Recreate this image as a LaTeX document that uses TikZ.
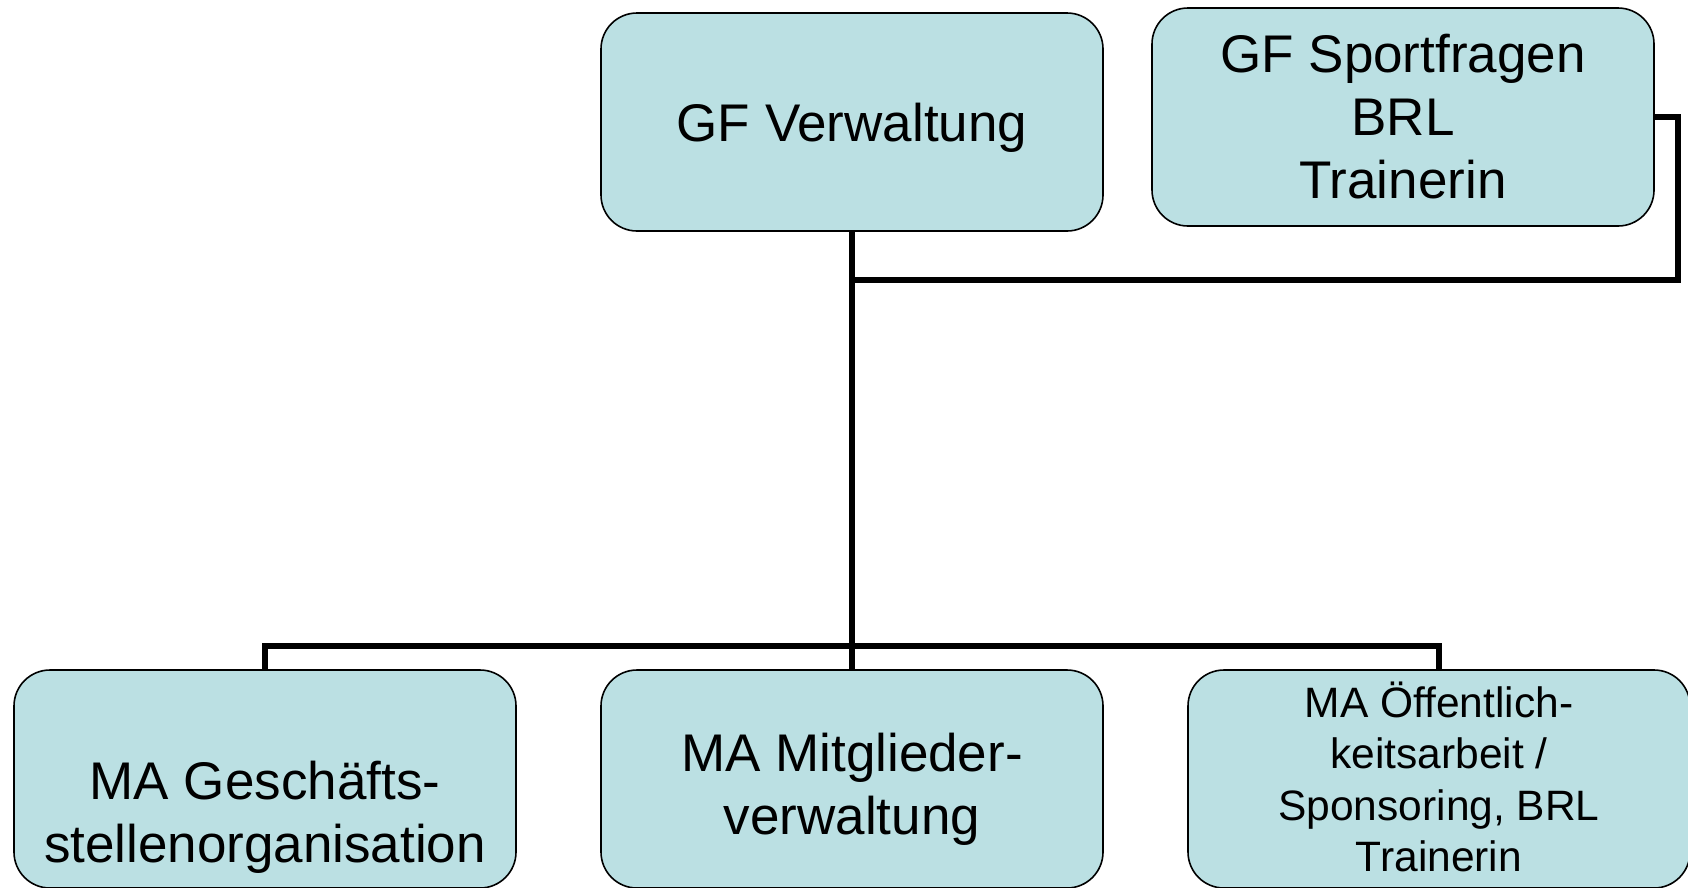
\documentclass[tikz,border=0pt]{standalone}
\usepackage{fontspec}
\setmainfont{Liberation Sans}
\definecolor{boxfill}{RGB}{187,224,227}
\begin{document}
\begin{tikzpicture}[x=1pt,y=-1pt,
  orgbox/.style={draw=black,line width=1.6pt,fill=boxfill,rounded corners=36pt,
    minimum width=502pt,minimum height=218pt,inner sep=0pt},
  bigtext/.style={align=center,inner sep=0pt,font=\fontsize{53}{63}\selectfont},
  smalltext/.style={align=center,inner sep=0pt,font=\fontsize{42.5}{51.3}\selectfont},
  conn/.style={line width=6pt,draw=black}]
\useasboundingbox (0,0) rectangle (1688,887);
% boxes
\node[orgbox] (A) at (852,122) {};
\node[orgbox] (B) at (1403,117) {};
\node[orgbox] (b1) at (265,779) {};
\node[orgbox] (b2) at (852,779) {};
\node[orgbox] (b3) at (1439,779) {};
% texts
\node[bigtext] (tA) at (852,128) {GF Verwaltung};
\node[bigtext] (tB) at (1403,117) {GF Sportfragen\\BRL\\Trainerin};
\node[bigtext] (t1) at (265,817) {MA Geschäfts-\\stellenorganisation};
\node[bigtext] (t2) at (852,789) {MA Mitglieder-\\verwaltung};
\node[smalltext] (t3) at (1439,777) {MA Öffentlich-\\keitsarbeit /\hspace*{12pt}\\Sponsoring, BRL\\Trainerin};
% connector helpers
\coordinate (bar) at (0,646);
\coordinate (rx) at (1678,0);
\coordinate (j) at (852,280);
% connectors
\draw[conn] (A.south) -- (b2.north);
\draw[conn] (b1.north) -- (b1.north |- bar) -- (b3.north |- bar) -- (b3.north);
\draw[conn] (B.east) -- (B.east -| rx) -- (rx |- j) -- (j);
\end{tikzpicture}
\end{document}
